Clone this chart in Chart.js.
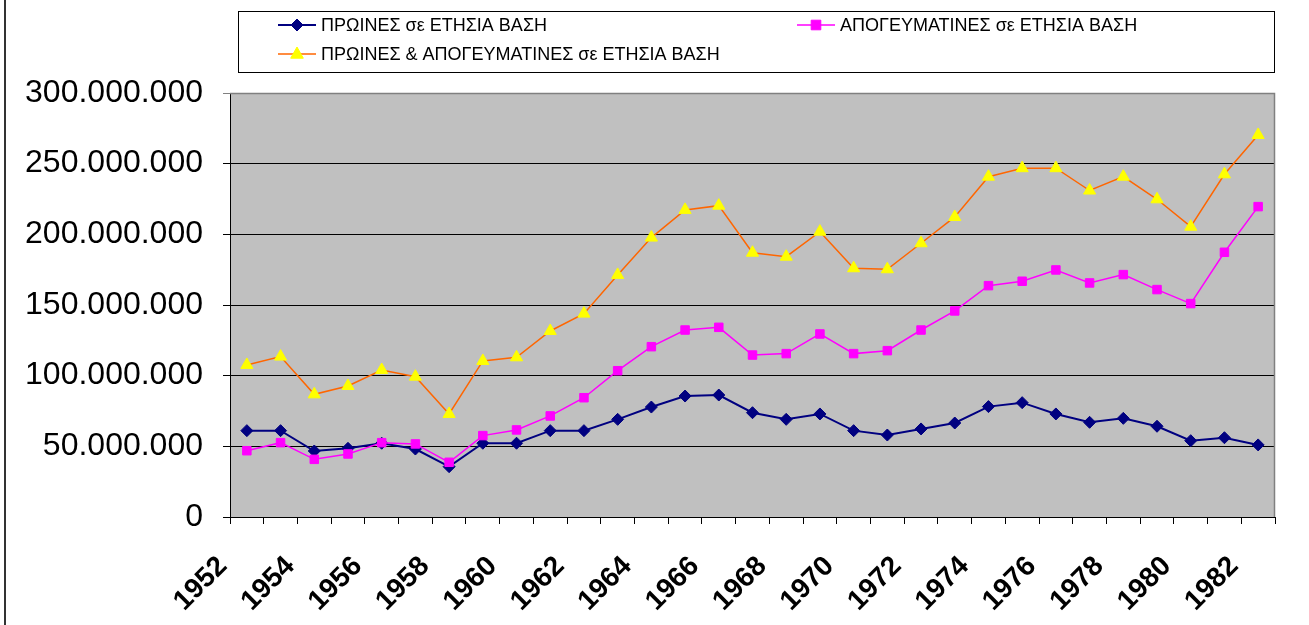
<!DOCTYPE html>
<html><head><meta charset="utf-8">
<script src="https://cdn.jsdelivr.net/npm/chart.js@4/dist/chart.umd.min.js"></script>
<style>html,body{margin:0;padding:0;background:#fff;}#wrap{width:1309px;height:625px;position:relative;}</style>
</head><body><div id="wrap"><canvas id="c" width="1309" height="625"></canvas></div>
<script>
const years = ['1952','1953','1954','1955','1956','1957','1958','1959','1960','1961','1962','1963','1964','1965','1966','1967','1968','1969','1970','1971','1972','1973','1974','1975','1976','1977','1978','1979','1980','1981','1982'];
const morning = [61100000,61100000,46700000,48600000,52200000,48100000,35600000,52200000,52200000,61100000,61100000,69100000,77800000,85600000,86300000,73800000,69100000,72900000,61100000,58000000,62300000,66500000,78100000,80900000,72900000,67000000,69800000,64200000,54000000,56100000,51000000];
const afternoon = [46900000,52600000,40800000,44600000,52600000,51700000,38700000,57600000,61600000,71500000,84400000,103500000,120500000,132300000,134200000,114600000,115600000,129500000,115600000,117700000,132300000,145800000,163700000,166800000,174800000,165600000,171500000,160900000,151000000,187300000,219600000];
const total = [107600000,113500000,86800000,92700000,104000000,99300000,72900000,110400000,113000000,131600000,143900000,171300000,197700000,217300000,220300000,187000000,184200000,201900000,176000000,175300000,193700000,212300000,240800000,246800000,246800000,231000000,240800000,224800000,205400000,242500000,270300000];
const seriesNames = ['ΠΡΩΙΝΕΣ σε ΕΤΗΣΙΑ ΒΑΣΗ','ΑΠΟΓΕΥΜΑΤΙΝΕΣ σε ΕΤΗΣΙΑ ΒΑΣΗ','ΠΡΩΙΝΕΣ & ΑΠΟΓΕΥΜΑΤΙΝΕΣ σε ΕΤΗΣΙΑ ΒΑΣΗ'];
const yMin = 0, yMax = 300000000, yStep = 50000000;

const FONT = '"Liberation Sans", Arial, sans-serif';
function fmt(v){ return String(v).replace(/\B(?=(\d{3})+(?!\d))/g,'.'); }

function drawMarker(ctx, style, x, y, r, fill, stroke){
  ctx.fillStyle = fill; ctx.strokeStyle = stroke; ctx.lineWidth = 1;
  ctx.beginPath();
  if (style === 'rectRot'){ ctx.moveTo(x, y-r); ctx.lineTo(x+r, y); ctx.lineTo(x, y+r); ctx.lineTo(x-r, y); }
  else if (style === 'rect'){ ctx.rect(x-r*0.8, y-r*0.8, r*1.6, r*1.6); }
  else { ctx.moveTo(x, y-r); ctx.lineTo(x+r*0.9, y+r*0.6); ctx.lineTo(x-r*0.9, y+r*0.6); }
  ctx.closePath(); ctx.fill(); ctx.stroke();
}

const decor = {
  id:'decor',
  beforeDraw(chart){
    const {ctx, chartArea:a} = chart;
    ctx.save();
    ctx.fillStyle = '#fff'; ctx.fillRect(0,0,chart.width,chart.height);
    ctx.fillStyle = '#C0C0C0'; ctx.fillRect(a.left, a.top, a.right-a.left, a.bottom-a.top);
    ctx.fillStyle = '#333'; ctx.fillRect(4,0,2,chart.height);
    ctx.restore();
  },
  beforeDatasetsDraw(chart){
    const {ctx, chartArea:a} = chart;
    ctx.save();
    ctx.strokeStyle = '#808080'; ctx.lineWidth = 1.5;
    ctx.beginPath(); ctx.moveTo(a.left, a.top+0.5); ctx.lineTo(a.right-0.5, a.top+0.5); ctx.lineTo(a.right-0.5, a.bottom); ctx.stroke();
    ctx.restore();
  },
  afterDraw(chart){
    const ctx = chart.ctx;
    ctx.save();
    ctx.strokeStyle = '#000'; ctx.lineWidth = 1;
    ctx.strokeRect(238.5, 11.5, 1036, 61);
    const items = [{x:278,y:25,i:0},{x:797,y:25,i:1},{x:278,y:54,i:2}];
    items.forEach(it => {
      const ds = chart.data.datasets[it.i];
      ctx.strokeStyle = ds.borderColor; ctx.lineWidth = ds.borderWidth;
      ctx.beginPath(); ctx.moveTo(it.x, it.y); ctx.lineTo(it.x+38, it.y); ctx.stroke();
      drawMarker(ctx, ds.pointStyle, it.x+19, it.y, ds.pointRadius, ds.pointBackgroundColor, ds.pointBorderColor);
      ctx.fillStyle = '#000'; ctx.font = '18px ' + FONT; ctx.textBaseline = 'middle'; ctx.textAlign = 'left';
      ctx.fillText(seriesNames[it.i], it.x+43, it.y+1);
    });
    ctx.restore();
  }
};

new Chart(document.getElementById('c'), {
  type:'line',
  data:{
    labels: years,
    datasets:[
      {label:seriesNames[0], data:morning, borderColor:'#000080', borderWidth:2, pointStyle:'rectRot', pointRadius:6, pointBackgroundColor:'#000080', pointBorderColor:'#000080', pointBorderWidth:1, tension:0, order:3},
      {label:seriesNames[1], data:afternoon, borderColor:'#FF00FF', borderWidth:1.5, pointStyle:'rect', pointRadius:6, pointBackgroundColor:'#FF00FF', pointBorderColor:'#FF00FF', pointBorderWidth:1, tension:0, order:2},
      {label:seriesNames[2], data:total, borderColor:'#FF6600', borderWidth:1.5, pointStyle:'triangle', pointRadius:7, pointBackgroundColor:'#FFFF00', pointBorderColor:'#FFFF00', pointBorderWidth:1, tension:0, order:1}
    ]
  },
  options:{
    responsive:false, animation:false,
    layout:{padding:{top:93, right:34, left:0, bottom:0}},
    plugins:{legend:{display:false}, tooltip:{enabled:false}},
    scales:{
      x:{
        offset:true,
        grid:{offset:true, drawOnChartArea:false, drawTicks:true, tickLength:7, color:'#000'},
        border:{color:'#000', width:1},
        ticks:{autoSkip:false, maxRotation:45, minRotation:45, padding:26, labelOffset:-24, color:'#000',
          font:{family:FONT, size:28, weight:'bold'},
          callback:(v,i)=> i%2===0 ? years[i] : ''},
        afterFit(s){ s.height = 108; s.paddingLeft = 0; s.paddingRight = 0; }
      },
      y:{
        min:yMin, max:yMax,
        grid:{color:(c)=> c.tick && c.tick.value===yMax ? '#808080' : '#000', tickLength:7, lineWidth:1},
        border:{color:'#000', width:1},
        ticks:{stepSize:yStep, padding:20, color:'#000', font:{family:FONT, size:32}, callback:(v)=>fmt(v)},
        afterFit(s){ s.width = 230; s.paddingTop = 0; s.paddingBottom = 0; }
      }
    }
  },
  plugins:[decor]
});
</script></body></html>
